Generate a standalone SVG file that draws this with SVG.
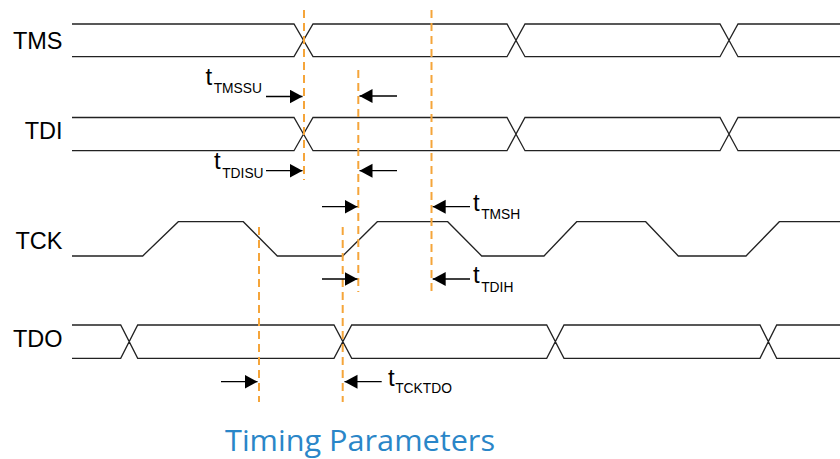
<svg xmlns="http://www.w3.org/2000/svg" width="840" height="459" viewBox="0 0 840 459">
<style>
.wave{fill:none;stroke:#222;stroke-width:1.3}
.lbl{font-family:"Liberation Sans",Arial,sans-serif;font-size:23.5px;fill:#000;text-anchor:end}
.t{font-family:"Liberation Sans",Arial,sans-serif;font-size:24px;fill:#000}
.sub{font-size:13.8px}
.dash{stroke:#f5a53a;stroke-width:2;stroke-dasharray:8 5;fill:none}
.arr{stroke:#000;stroke-width:1.3;fill:none;marker-end:url(#ah)}
.title{font-family:"Open Sans","Noto Sans",sans-serif;font-size:29px;fill:#2a86c8;text-anchor:middle}
</style>
<defs>
<marker id="ah" markerUnits="userSpaceOnUse" markerWidth="14" markerHeight="15" refX="13" refY="7" orient="auto">
<path d="M0,0 L13,7 L0,14 z" fill="#000"/>
</marker>
</defs>
<rect width="840" height="459" fill="#fff"/>
<g id="TMS">
<text class="lbl" x="62.5" y="49.3">TMS</text>
<path class="wave" d="M72,24 H294 L313,56.7 H507 L525,24 H720 L738,56.7 H840 M72,56.7 H294 L313,24 H507 L525,56.7 H720 L738,24 H840"/>
</g>
<g id="TDI">
<text class="lbl" x="62.5" y="139.3">TDI</text>
<path class="wave" d="M72,117.5 H294 L313,150.7 H507 L525,117.5 H720 L738,150.7 H840 M72,150.7 H294 L313,117.5 H507 L525,150.7 H720 L738,117.5 H840"/>
</g>
<g id="TCK">
<text class="lbl" x="62.5" y="249.3">TCK</text>
<path class="wave" d="M72,256 H142.7 L178.3,221.7 H243.3 L277.3,256 H342.7 L377.3,221.7 H447.7 L481.7,256 H544 L576.7,221.7 H645.7 L678.3,256 H746 L779.3,221.7 H840"/>
</g>
<g id="TDO">
<text class="lbl" x="62.5" y="346.5">TDO</text>
<path class="wave" d="M72,325 H120.7 L137.7,358.3 H334 L351.7,325 H546.7 L564,358.3 H760 L776.7,325 H840 M72,358.3 H120.7 L137.7,325 H334 L351.7,358.3 H546.7 L564,325 H760 L776.7,358.3 H840"/>
</g>
<g id="connectors">
<line class="dash" x1="304" y1="10" x2="304" y2="180"/>
<line class="dash" x1="358.3" y1="70" x2="358.3" y2="292"/>
<line class="dash" x1="431.5" y1="10" x2="431.5" y2="296"/>
<line class="dash" x1="259" y1="227" x2="259" y2="402"/>
<line class="dash" x1="342.7" y1="227" x2="342.7" y2="402"/>
<line class="arr" x1="266" y1="96.5" x2="302.5" y2="96.5"/>
<line class="arr" x1="397" y1="96" x2="359.5" y2="96"/>
<line class="arr" x1="266" y1="170.7" x2="302.5" y2="170.7"/>
<line class="arr" x1="397" y1="170.7" x2="359.5" y2="170.7"/>
<line class="arr" x1="322" y1="206.7" x2="357.5" y2="206.7"/>
<line class="arr" x1="322" y1="279" x2="357.5" y2="279"/>
<line class="arr" x1="470" y1="206.7" x2="432.7" y2="206.7"/>
<line class="arr" x1="470" y1="279" x2="432.7" y2="279"/>
<line class="arr" x1="221" y1="381.7" x2="257.5" y2="381.7"/>
<line class="arr" x1="381.7" y1="381.7" x2="344.5" y2="381.7"/>
</g>
<g id="labels">
<text class="t" x="205.5" y="85">t<tspan class="sub" dx="1.5" dy="8.3">TMSSU</tspan></text>
<text class="t" x="214" y="169">t<tspan class="sub" dx="1.5" dy="9">TDISU</tspan></text>
<text class="t" x="473" y="210.5">t<tspan class="sub" dx="1.5" dy="8.5">TMSH</tspan></text>
<text class="t" x="473" y="283">t<tspan class="sub" dx="1.5" dy="9.3">TDIH</tspan></text>
<text class="t" x="388" y="385.5">t<tspan class="sub" dx="0.5" dy="7">TCKTDO</tspan></text>
</g>
<text class="title" x="360" y="451" textLength="270" lengthAdjust="spacingAndGlyphs">Timing Parameters</text>
</svg>
